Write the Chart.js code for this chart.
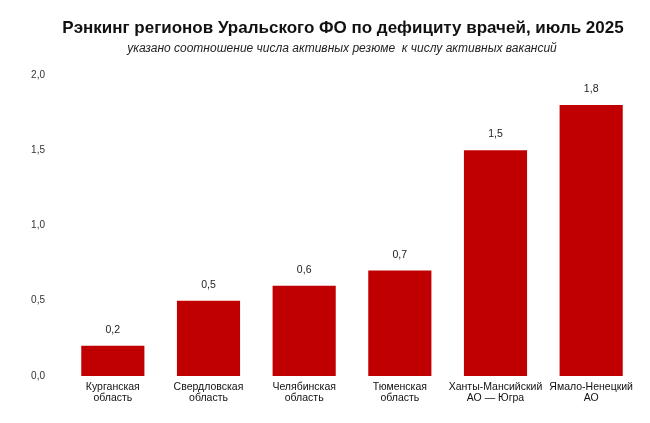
<!DOCTYPE html>
<html>
<head>
<meta charset="utf-8">
<script src="https://cdn.jsdelivr.net/npm/chart.js@4"></script>
<style>
  html, body { margin: 0; padding: 0; background: #fff; }
  #wrap { width: 650px; height: 423px; }
</style>
</head>
<body>
<div id="wrap"><canvas id="chart"></canvas></div>
<script>
// Regions of the Ural federal district and resume/vacancy ratio
const regions = [
    ['Курганская', 'область'],
    ['Свердловская', 'область'],
    ['Челябинская', 'область'],
    ['Тюменская', 'область'],
    ['Ханты-Мансийский', 'АО — Югра'],
    ['Ямало-Ненецкий', 'АО']
];
const ratios = [0.2, 0.5, 0.6, 0.7, 1.5, 1.8];
const yTicks = [0, 0.5, 1, 1.5, 2];

const titleText = 'Рэнкинг регионов Уральского ФО по дефициту врачей, июль 2025';
const subtitleText = 'указано соотношение числа активных резюме  к числу активных вакансий';

const FONT = '"Liberation Sans", Arial, sans-serif';
const fmt = (v) => v.toFixed(1).replace('.', ',');

// Title block, centred a bit right of the canvas middle like the original
const headerText = {
    id: 'headerText',
    afterDraw(chart) {
        const ctx = chart.ctx;
        ctx.save();
        ctx.textAlign = 'center';
        ctx.textBaseline = 'middle';
        ctx.fillStyle = '#111';
        ctx.font = 'bold 17px ' + FONT;
        ctx.fillText(titleText, 343, 28);
        ctx.fillStyle = '#222';
        ctx.font = 'italic 12px ' + FONT;
        ctx.fillText(subtitleText, 342, 49);
        ctx.restore();
    }
};

// Draws the value above each bar
const valueLabels = {
    id: 'valueLabels',
    afterDatasetsDraw(chart) {
        const ctx = chart.ctx;
        const meta = chart.getDatasetMeta(0);
        ctx.save();
        ctx.font = '10.5px ' + FONT;
        ctx.fillStyle = '#222';
        ctx.textAlign = 'center';
        ctx.textBaseline = 'middle';
        meta.data.forEach((bar, i) => {
            ctx.fillText(fmt(ratios[i]), bar.x, bar.y - 16);
        });
        ctx.restore();
    }
};

new Chart(document.getElementById('chart'), {
    type: 'bar',
    data: {
        labels: regions,
        datasets: [{
            data: ratios,
            backgroundColor: '#c00000',
            barPercentage: 0.66,
            categoryPercentage: 1
        }]
    },
    options: {
        responsive: true,
        maintainAspectRatio: false,
        animation: false,
        layout: { padding: { left: 5, right: 11, top: 75, bottom: 13 } },
        plugins: {
            legend: { display: false },
            tooltip: { enabled: false }
        },
        scales: {
            x: {
                grid: { display: false, drawTicks: false },
                border: { display: false },
                ticks: {
                    color: '#111',
                    padding: 6,
                    autoSkip: false,
                    maxRotation: 0,
                    font: { family: FONT, size: 10.5, lineHeight: 1.05 }
                }
            },
            y: {
                min: 0,
                max: 2,
                afterBuildTicks: (scale) => { scale.ticks = yTicks.map(v => ({ value: v })); },
                afterFit: (scale) => { scale.width = 60; },
                grid: { display: false, drawTicks: false },
                border: { display: false },
                ticks: {
                    color: '#333',
                    padding: 20,
                    callback: (v) => fmt(v),
                    font: { family: FONT, size: 10 }
                }
            }
        }
    },
    plugins: [valueLabels, headerText]
});
</script>
</body>
</html>
